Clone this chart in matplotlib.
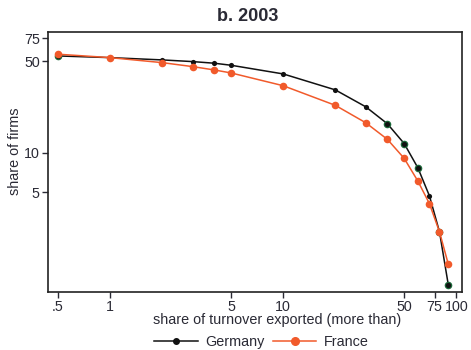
import matplotlib
matplotlib.use("Agg")
import matplotlib.pyplot as plt
from matplotlib.lines import Line2D

plt.rcParams['font.family'] = ['Liberation Sans', 'DejaVu Sans']

# export-share thresholds (% of turnover exported, more than)
thresholds = [0.5, 1, 2, 3, 4, 5, 10, 20, 30, 40, 50, 60, 70, 80, 90]
germany = [55.0, 53.4, 51.3, 49.8, 48.4, 46.7, 40.1, 30.3, 22.5, 16.7, 11.8, 7.7, 4.7, 2.5, 0.98]
france = [56.7, 53.4, 48.9, 45.6, 43.0, 40.8, 32.6, 23.1, 17.0, 12.7, 9.1, 6.1, 4.1, 2.5, 1.41]
germany_flag = [1, 0, 0, 0, 0, 0, 0, 0, 0, 1, 1, 1, 0, 1, 1]

xticks = [0.5, 1, 5, 10, 50, 75, 100]
xticklabels = ['.5', '1', '5', '10', '50', '75', '100']
yticks = [5, 10, 50, 75]
yticklabels = ['5', '10', '50', '75']

BLACK = '#111111'
GREEN = '#1e6b3c'
ORANGE = '#f15a2b'
TEXT = '#2a2a35'

fig = plt.figure(figsize=(4.71, 3.5), dpi=100)
ax = fig.add_axes([0.102, 0.166, 0.879, 0.743])

ax.plot(thresholds, germany, color=BLACK, lw=1.1, zorder=2)
gx = [x for x, f in zip(thresholds, germany_flag) if f]
gy = [y for y, f in zip(germany, germany_flag) if f]
ax.scatter(gx, gy, s=30, color=GREEN, zorder=3, linewidths=0)
ax.scatter(thresholds, germany, s=14, color=BLACK, zorder=4, linewidths=0)
ax.scatter(gx, gy, s=5, color=BLACK, zorder=5, linewidths=0)

ax.plot(thresholds, france, color=ORANGE, lw=1.1, zorder=6)
ax.scatter(thresholds, france, s=30, color=ORANGE, zorder=7, linewidths=0)

ax.set_xscale('log')
ax.set_yscale('log')
ax.set_xlim(0.438, 108)
ax.set_ylim(0.87, 84)
ax.set_xticks(xticks)
ax.set_xticklabels(xticklabels)
ax.set_yticks(yticks)
ax.set_yticklabels(yticklabels)
ax.minorticks_off()
ax.tick_params(direction='out', length=4.5, width=1, labelsize=10.3, pad=1.5, colors=TEXT)
for s in ax.spines.values():
    s.set_linewidth(1.2)
    s.set_color('#222222')

ax.set_title('b. 2003', fontsize=13, fontweight='bold', pad=8, color=TEXT, x=0.483)
ax.set_xlabel('share of turnover exported (more than)', fontsize=10.4, color=TEXT)
ax.xaxis.set_label_coords(0.553, -0.083)
ax.set_ylabel('share of firms', fontsize=10.4, color=TEXT)
ax.yaxis.set_label_coords(-0.062, 0.542)

handles = [
    Line2D([0], [0], color=BLACK, lw=1.1, marker='o', markersize=4),
    Line2D([0], [0], color=ORANGE, lw=1.1, marker='o', markersize=5.5),
]
leg = fig.legend(handles, ['Germany', 'France'], loc='lower center', bbox_to_anchor=(0.555, -0.035),
                 ncol=2, frameon=False, fontsize=10.4, handlelength=3.0, columnspacing=0.6,
                 handletextpad=0.5)
for t in leg.get_texts():
    t.set_color(TEXT)

fig.savefig('out.png', dpi=100)
